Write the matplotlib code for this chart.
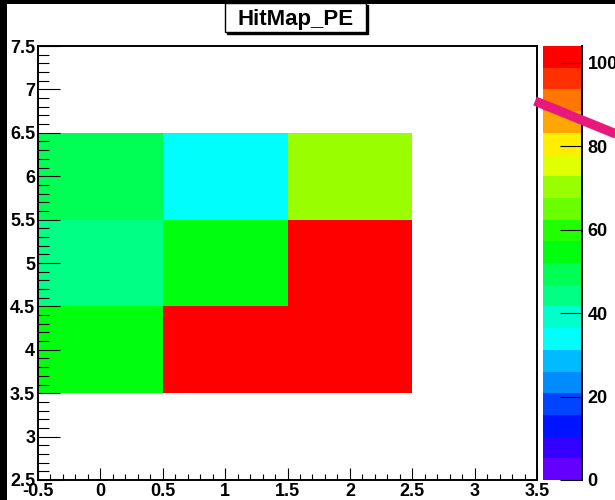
import numpy as np
import matplotlib
matplotlib.use("Agg")
import matplotlib.pyplot as plt
from matplotlib.colors import ListedColormap, BoundaryNorm
from matplotlib.patches import Rectangle
from matplotlib.lines import Line2D
import colorsys

plt.rcParams['font.family'] = ['Liberation Sans', 'DejaVu Sans']
plt.rcParams['font.weight'] = 'bold'

# ---- data ----
title = "HitMap_PE"
x_edges = [-0.5, 0.5, 1.5, 2.5, 3.5]
y_edges = [2.5, 3.5, 4.5, 5.5, 6.5, 7.5]
# bin contents, rows = y bins (2.5-3.5 ... 6.5-7.5), cols = x bins
counts = np.array([
    [0,   0,   0,   0],
    [55, 100, 104,  0],
    [44,  55, 102,  0],
    [49,  34,  70,  0],
    [0,   0,   0,   0],
], dtype=float)
x_ticks = [-0.5, 0, 0.5, 1, 1.5, 2, 2.5, 3, 3.5]
y_ticks = [2.5, 3, 3.5, 4, 4.5, 5, 5.5, 6, 6.5, 7, 7.5]
z_ticks = [0, 20, 40, 60, 80, 100]
n_levels = 20

# ---- ROOT-like pretty palette (50 colours, 20 contours) ----
pal = []
for i in range(50):
    hue = 280 - (i + 1) * (280 / 50)
    r, g, b = colorsys.hls_to_rgb((hue % 360) / 360.0, 0.5, 1.0)
    pal.append((r, g, b))
band_colors = [pal[int((j + 0.99) * 50 / n_levels)] for j in range(n_levels)]
cmap = ListedColormap(band_colors)
zmax = counts.max()
levels = np.linspace(0, zmax, n_levels + 1)
norm = BoundaryNorm(levels, cmap.N)

W, H = 615, 500
fig = plt.figure(figsize=(W / 100, H / 100), dpi=100)

def fx(px):
    return px / W

def fy(py):
    return 1 - py / H

ax = fig.add_axes([fx(38), fy(480), fx(537) - fx(38), fy(46) - fy(480)])
masked = np.ma.masked_where(counts <= 0, counts)
mesh = ax.pcolormesh(x_edges, y_edges, masked, cmap=cmap, norm=norm)
ax.set_xlim(x_edges[0], x_edges[-1])
ax.set_ylim(y_edges[0], y_edges[-1])
ax.set_xticks(x_ticks)
ax.set_yticks(y_ticks)
ax.set_xticklabels([f"{t:g}" for t in x_ticks])
ax.set_yticklabels([f"{t:g}" for t in y_ticks])
ax.set_xticks(np.arange(-0.5, 3.5001, 0.1), minor=True)
ax.set_yticks(np.arange(2.5, 7.5001, 0.1), minor=True)
ax.tick_params(axis='x', which='major', direction='in', length=8.6, width=0.8,
               labelsize=13, pad=2, top=False)
ax.tick_params(axis='x', which='minor', direction='in', length=4.3, width=0.8, top=False)
ax.tick_params(axis='y', which='major', direction='in', length=15.8, width=0.8,
               labelsize=13, pad=2, right=False)
ax.tick_params(axis='y', which='minor', direction='in', length=7.9, width=0.8, right=False)
for lab in ax.get_xticklabels() + ax.get_yticklabels():
    lab.set_fontweight('bold')
for s in ax.spines.values():
    s.set_linewidth(1.4)

# ---- colour bar ----
cax = fig.add_axes([fx(543), fy(480), fx(582) - fx(543), fy(46) - fy(480)])
cb = fig.colorbar(mesh, cax=cax, boundaries=levels, ticks=z_ticks)
cb.outline.set_visible(False)
cax.yaxis.set_ticks_position('right')
cax.tick_params(axis='y', direction='in', length=15.8, width=0.8, labelsize=13, pad=4)
cax.yaxis.set_minor_locator(matplotlib.ticker.NullLocator())
for lab in cax.get_yticklabels():
    lab.set_fontweight('bold')
cax.add_line(Line2D([1, 1], [0, 1], transform=cax.transAxes, color='black',
                    lw=1.4, clip_on=False))

# ---- title box (ROOT TPaveText with shadow) ----
bx0, by0, bx1, by1 = 225, 3, 366, 32
fig.patches.append(Rectangle((fx(bx0 + 2), fy(by1 + 2)), fx(bx1) - fx(bx0), fy(by0) - fy(by1),
                             transform=fig.transFigure, facecolor='black', edgecolor='black',
                             zorder=5))
fig.patches.append(Rectangle((fx(bx0), fy(by1)), fx(bx1) - fx(bx0), fy(by0) - fy(by1),
                             transform=fig.transFigure, facecolor='white', edgecolor='black',
                             lw=1.0, zorder=6))
fig.text(fx((bx0 + bx1) / 2), fy((by0 + by1) / 2 + 2), title, ha='center', va='center',
         fontsize=16, fontweight='bold', zorder=7)

# ---- screenshot borders ----
fig.patches.append(Rectangle((0, 0), fx(7), 1, transform=fig.transFigure,
                             facecolor='black', edgecolor='none', zorder=10))
fig.patches.append(Rectangle((0, fy(4)), 1, 1 - fy(4), transform=fig.transFigure,
                             facecolor='black', edgecolor='none', zorder=10))

# ---- pink annotation stroke ----
fig.add_artist(Line2D([fx(535), fx(616)], [fy(101), fy(134)], transform=fig.transFigure,
                      color='#e8197c', lw=6.8, solid_capstyle='butt', zorder=20))

fig.savefig("out.png", dpi=100)
